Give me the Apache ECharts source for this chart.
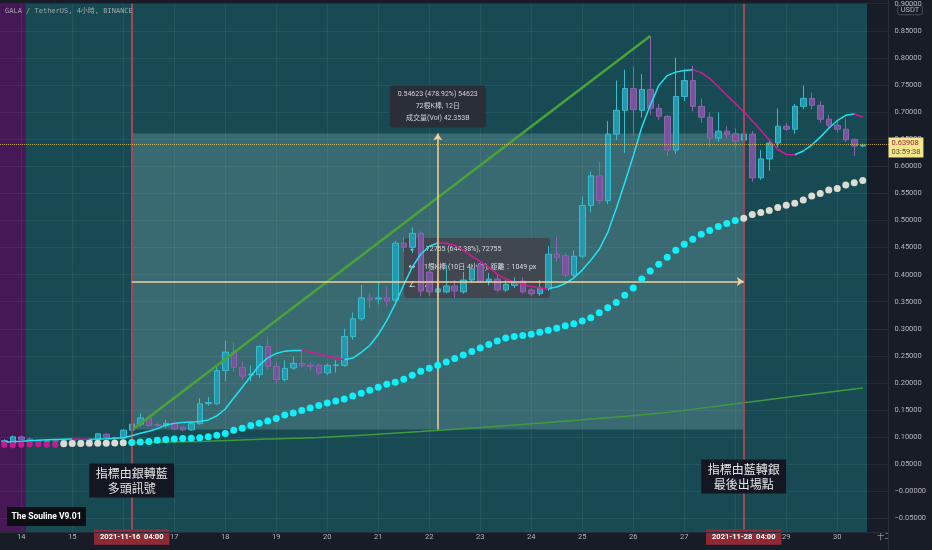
<!DOCTYPE html>
<html>
<head>
<meta charset="utf-8">
<title>GALA / TetherUS 4h</title>
<script src="https://cdn.jsdelivr.net/npm/echarts@6.0.0/dist/echarts.min.js"></script>
<style>
html,body{margin:0;padding:0;background:#181c27;overflow:hidden;}
#chart{width:932px;height:550px;}
</style>
</head>
<body>
<div id="chart"></div>
<script>
// ================= DATA =================
const firstSlotUTC = Date.UTC(2021, 10, 13, 16, 0); // first 4h slot on the axis
const slotCount = 105;                              // 102 bars + empty right margin up to 1 Dec
const markedTimes = ['2021-11-16 04:00', '2021-11-28 04:00'];
const monthNames = ['一月','二月','三月','四月','五月','六月','七月','八月','九月','十月','十一月','十二月'];

// candles: [open, close, low, high]
const candles = [
  [0.0916,0.0934,0.0880,0.0960],[0.0885,0.1007,0.0870,0.1030],[0.1005,0.0960,0.0940,0.1030],[0.0965,0.0925,0.0900,0.0990],
  [0.0930,0.0925,0.0900,0.0960],[0.0925,0.0930,0.0910,0.0945],[0.0930,0.0928,0.0915,0.0945],[0.0928,0.0935,0.0915,0.0950],
  [0.0935,0.0930,0.0920,0.0950],[0.0930,0.0933,0.0918,0.0948],[0.0933,0.0940,0.0920,0.0960],[0.0952,0.1062,0.0940,0.1070],
  [0.1056,0.0995,0.0985,0.1075],[0.0995,0.0975,0.0960,0.1010],[0.0983,0.1130,0.0970,0.1150],[0.1130,0.1240,0.11291,0.1420],
  [0.1240,0.1355,0.1200,0.1440],[0.1355,0.1215,0.1190,0.1400],[0.1227,0.1222,0.1180,0.1260],[0.1210,0.1255,0.1180,0.1320],
  [0.1255,0.1150,0.1130,0.1280],[0.1180,0.1135,0.1110,0.1200],[0.1135,0.1250,0.1120,0.1270],[0.1250,0.1617,0.1230,0.1722],
  [0.1620,0.1640,0.1580,0.1740],[0.1617,0.2229,0.1600,0.2300],[0.2229,0.2570,0.2033,0.2780],[0.2570,0.2290,0.2200,0.2750],
  [0.2290,0.2125,0.2050,0.2400],[0.2150,0.2165,0.2030,0.2326],[0.2156,0.2674,0.2100,0.2700],[0.2674,0.2308,0.2250,0.2857],
  [0.2308,0.2064,0.2000,0.2380],[0.2064,0.2270,0.2030,0.2418],[0.2277,0.2363,0.2250,0.2490],[0.2363,0.2320,0.2280,0.2600],
  [0.2330,0.2308,0.2240,0.2380],[0.2326,0.2185,0.2150,0.2360],[0.2185,0.2326,0.2150,0.2360],[0.2320,0.2335,0.2190,0.2420],
  [0.2326,0.2857,0.2300,0.3004],[0.2857,0.3187,0.2800,0.3300],[0.3187,0.3571,0.3150,0.3810],[0.3571,0.3540,0.3380,0.3650],
  [0.3550,0.3571,0.3450,0.3883],[0.3571,0.3515,0.3420,0.3774],[0.3530,0.4579,0.3450,0.4620],[0.4579,0.4505,0.4420,0.4700],
  [0.4505,0.4762,0.4400,0.4872],[0.4762,0.3700,0.3600,0.4800],[0.4048,0.3681,0.3600,0.4150],[0.3681,0.3736,0.3600,0.3919],
  [0.3681,0.3791,0.3650,0.4176],[0.3791,0.3700,0.3570,0.3900],[0.3681,0.3901,0.3650,0.4050],[0.3901,0.4103,0.3850,0.4200],
  [0.4176,0.3883,0.3850,0.4250],[0.3883,0.3919,0.3800,0.4030],[0.3919,0.3718,0.3680,0.4000],[0.3718,0.3820,0.3680,0.3900],
  [0.3800,0.3860,0.3750,0.3950],[0.3880,0.3681,0.3650,0.3950],[0.3718,0.3645,0.3600,0.3750],[0.3650,0.3750,0.3610,0.3900],
  [0.3736,0.4377,0.3700,0.4530],[0.4377,0.4322,0.4250,0.4700],[0.4350,0.3993,0.3950,0.4400],[0.3993,0.4341,0.3950,0.4450],
  [0.4341,0.5275,0.4300,0.5440],[0.5275,0.5824,0.5150,0.5900],[0.5824,0.5366,0.5300,0.6081],[0.5366,0.6593,0.5300,0.6832],
  [0.6593,0.7033,0.6484,0.7582],[0.7033,0.7436,0.6245,0.7784],[0.7436,0.7045,0.6557,0.7839],[0.7033,0.7418,0.6900,0.7700],
  [0.7418,0.7070,0.6950,0.84046],[0.7070,0.6923,0.6850,0.7150],[0.6923,0.6300,0.6190,0.6950],[0.6300,0.7289,0.6227,0.8004],
  [0.7289,0.7582,0.7200,0.7784],[0.7582,0.7106,0.7015,0.7857],[0.7106,0.6905,0.6800,0.7253],[0.6905,0.6520,0.6355,0.6996],
  [0.6520,0.6648,0.6450,0.6996],[0.6648,0.6590,0.6500,0.6740],[0.6600,0.6465,0.6300,0.6700],[0.6484,0.6593,0.6400,0.6800],
  [0.6593,0.5788,0.5714,0.6650],[0.5788,0.6136,0.5750,0.6300],[0.6136,0.6429,0.5916,0.6500],[0.6429,0.6740,0.6350,0.7070],
  [0.6740,0.6685,0.6650,0.6800],[0.6685,0.7106,0.6600,0.7150],[0.7106,0.7253,0.7050,0.7491],[0.7253,0.7125,0.7050,0.7363],
  [0.7125,0.6868,0.6800,0.7200],[0.6868,0.6758,0.6700,0.6950],[0.6758,0.6685,0.6620,0.6850],[0.6685,0.6490,0.6450,0.6880],
  [0.6490,0.6374,0.6190,0.6520],[0.6374,0.63908,0.6350,0.6420]
];

// smooth trend line (cyan when rising, magenta when falling)
const trendMA = [
  0.0907,0.0916,0.0925,0.0934,0.0943,0.0952,0.0958,0.0962,0.0966,0.0964,0.0962,0.0966,0.0971,0.0980,0.0989,
  0.1026,0.1071,0.1108,0.1154,0.1227,0.1255,0.1273,0.1282,0.1291,0.1319,0.1392,0.1520,0.1722,0.1923,0.2125,
  0.2326,0.2463,0.2546,0.2588,0.2598,0.2601,0.2573,0.2537,0.2500,0.2463,0.2430,0.2460,0.2564,0.2692,0.2894,
  0.3150,0.3462,0.3810,0.4139,0.4377,0.4524,0.4584,0.4579,0.4542,0.4451,0.4341,0.4240,0.4139,0.4011,0.3919,
  0.3864,0.3819,0.3782,0.3755,0.3742,0.3773,0.3837,0.3938,0.4084,0.4267,0.4469,0.4780,0.5220,0.5696,0.6190,
  0.6722,0.7125,0.7491,0.7674,0.7738,0.7766,0.7784,0.7729,0.7619,0.7473,0.7313,0.7161,0.7005,0.6841,0.6667,
  0.6484,0.6310,0.6218,0.6214,0.6282,0.6392,0.6538,0.6703,0.6841,0.6941,0.6965,0.6905
];

// dotted trailing stop
const dotValues = [
  0.0861,0.0852,0.0861,0.0870,0.0870,0.0861,0.0861,
  0.0880,0.0882,0.0884,0.0886,0.0888,0.0890,0.0892,0.0895,
  0.0903,0.0912,0.0921,0.0943,0.0956,0.0967,0.0974,0.0980,0.0989,0.1007,0.1035,0.1068,0.1126,0.1163,0.1214,
  0.1255,0.1300,0.1346,0.1410,0.1447,0.1493,0.1538,0.1584,0.1630,0.1667,0.1703,0.1758,0.1813,0.1868,0.1923,
  0.1978,0.2015,0.2070,0.2143,0.2216,0.2271,0.2326,0.2390,0.2454,0.2518,0.2582,0.2647,0.2711,0.2775,0.2830,
  0.2857,0.2875,0.2899,0.2936,0.2973,0.3009,0.3059,0.3095,0.3145,0.3205,0.3297,0.3388,0.3485,0.3621,0.3755,
  0.3919,0.4066,0.4194,0.4322,0.4451,0.4560,0.4652,0.4744,0.4817,0.4890,0.4945,0.5000,
  0.5042,0.5110,0.5147,0.5183,0.5238,0.5280,0.5317,0.5379,0.5452,0.5500,0.5562,0.5592,0.5654,0.5696,0.5738
];
const dotPhases = [
  {from: 0,  to: 6,   state: 'bear'},
  {from: 7,  to: 14,  state: 'neutral'},
  {from: 15, to: 86,  state: 'bull'},
  {from: 87, to: 101, state: 'neutral'}
];
const bgPhases = [
  {from: 0, to: 2,   state: 'bear'},
  {from: 3, to: 101, state: 'bull'}
];

// slow moving average, read at a few bars
const slowMA = [[15,0.0903],[23,0.0921],[31,0.0965],[37,0.0995],[49,0.1104],[64,0.1273],[77,0.1441],[87,0.1636],[101,0.1910]];
// trend-angle drawing (from low to high)
const trendAngle = [[15,0.11291],[76,0.84046]];
// date & price range drawing
const rangeFrom = 15, rangeTo = 87, rangeLow = 0.11406, rangeHigh = 0.66029;
const rangeText = ['0.54623 (478.92%) 54623', '72根K棒, 12日', '成交量(Vol) 42.353B'];
const angleText = ['0.72755 (644.38%), 72755', '61根K棒 (10日 4小時), 距離：1049 px', '37°'];
const lastPrice = 0.63908;
const countdown = '03:59:38';
const priceStep = 0.05;
const priceMin = -0.075, priceMax = 0.9;
const notes = [
  {at: 15, price: 0.0201, text: '指標由銀轉藍\n多頭訊號'},
  {at: 87, price: 0.0275, text: '指標由藍轉銀\n最後出場點'}
];

// ================= BUILD =================
const pad = n => String(n).padStart(2, '0');
const categories = [];
for (let i = 0; i < slotCount; i++) {
  const d = new Date(firstSlotUTC + i * 4 * 3600 * 1000);
  categories.push(`${d.getUTCFullYear()}-${pad(d.getUTCMonth()+1)}-${pad(d.getUTCDate())} ${pad(d.getUTCHours())}:00`);
}
const markedIdx = markedTimes.map(t => categories.indexOf(t));
const dayStarts = [];
categories.forEach((c, i) => { if (c.endsWith(' 00:00')) dayStarts.push(i); });

function showLabel(idx) {
  if (markedIdx.includes(idx)) return true;
  if (!categories[idx].endsWith(' 00:00')) return false;
  return !markedIdx.some(m => Math.abs(m - idx) <= 2);
}
function phaseOf(phases, i) {
  const p = phases.find(p => i >= p.from && i <= p.to);
  return p ? p.state : null;
}

const maRise = trendMA.map(() => null), maFall = trendMA.map(() => null);
for (let i = 0; i < trendMA.length - 1; i++) {
  const tgt = trendMA[i + 1] >= trendMA[i] ? maRise : maFall;
  tgt[i] = trendMA[i]; tgt[i + 1] = trendMA[i + 1];
}
const rangeMid = (rangeLow + rangeHigh) / 2;
const rangeCenter = (rangeFrom + rangeTo) / 2;

const C = {
  bgBear: '#461856', bgBull: '#174a52',
  up: '#2698ad', upBorder: '#36bccd', down: '#77559b', downBorder: '#8c64af',
  dotBear: '#c8198f', dotNeutral: '#dcdcd4', dotBull: '#10f0fa',
  maUp: '#1fe3f2', maDown: '#d01c96',
  green: '#4aa338', slow: '#3f9a3f', red: '#a6445a', tool: '#f1d29a',
  axisText: '#b2b5be', panel: '#181c27', sep: '#2a2e39'
};
const dotColor = {bear: C.dotBear, neutral: C.dotNeutral, bull: C.dotBull};
const bgColor = {bear: C.bgBear, bull: C.bgBull};
const FONT = 'Roboto, "Noto Sans CJK TC", sans-serif';

const chart = echarts.init(document.getElementById('chart'), null, {renderer: 'canvas'});

const dotSeries = ['bear', 'neutral', 'bull'].map(state => ({
  type: 'scatter', name: 'dots-' + state, xAxisIndex: 0, yAxisIndex: 0, z: 6, silent: true,
  symbolSize: state === 'bear' ? 6.2 : 7,
  itemStyle: {color: dotColor[state], opacity: 1},
  data: dotValues.map((v, i) => [i, v]).filter(p => phaseOf(dotPhases, p[0]) === state)
}));

const option = {
  backgroundColor: C.panel,
  animation: false,
  textStyle: {fontFamily: FONT},
  grid: {left: 0, top: 0, width: slotCount * 8.5, height: 532, containLabel: false},
  xAxis: [
    {type: 'category', data: categories, boundaryGap: true, z: 1,
     axisLine: {show: false}, axisTick: {show: false}, axisLabel: {show: false}, splitLine: {show: false}},
    {type: 'value', min: -0.5, max: slotCount - 0.5, show: false},
    {type: 'category', data: categories, boundaryGap: true, position: 'bottom', z: 7,
     axisLine: {show: false}, axisTick: {show: false}, splitLine: {show: false},
     axisLabel: {
       show: true, margin: 0, interval: (idx) => showLabel(idx),
       formatter: (val) => {
         if (markedTimes.includes(val)) return '{mark|' + val.replace(' ', '  ') + '}';
         const day = +val.slice(8, 10);
         return '{day|' + (day === 1 ? monthNames[+val.slice(5, 7) - 1] : day) + '}';
       },
       rich: {
         day: {color: C.axisText, fontSize: 7.5, lineHeight: 10, padding: [4, 0, 4, 0], fontFamily: FONT},
         mark: {color: '#ffffff', fontSize: 7.5, fontWeight: 'bold', lineHeight: 10, padding: [4, 6, 4, 6],
                backgroundColor: '#8e2a36', fontFamily: FONT}
       }
     }}
  ],
  yAxis: [
    {type: 'value', min: priceMin, max: priceMax, splitNumber: 20, position: 'right', z: 1,
     axisLine: {show: false}, axisTick: {show: false}, axisLabel: {show: false},
     splitLine: {show: true, lineStyle: {color: 'rgba(255,255,255,0.06)', width: 1}}},
    {type: 'value', min: priceMin, max: priceMax, splitNumber: 20, position: 'right', z: 9,
     axisLine: {show: false}, axisTick: {show: false}, splitLine: {show: false},
     axisLabel: {
       show: true, margin: 2, color: C.axisText, fontSize: 7.5, showMinLabel: false,
       formatter: v => {
         const k = v / priceStep;
         if (Math.abs(k - Math.round(k)) > 1e-6) return '';
         const r = Math.round(k) * priceStep;
         if (Math.abs(r) < 1e-9) return '\u22120.00000';
         return r < 0 ? '\u2212' + Math.abs(r).toFixed(5) : r.toFixed(5);
       }
     }}
  ],
  series: [
    // slow MA (+ background phases + vertical grid)
    {type: 'line', name: 'slow', xAxisIndex: 1, yAxisIndex: 0, z: 4, silent: true,
     data: slowMA, showSymbol: false, smooth: 0.3,
     lineStyle: {color: C.slow, width: 1.5},
     markArea: {silent: true, z: 0,
       data: bgPhases.map(p => [{xAxis: p.from - 0.5, itemStyle: {color: bgColor[p.state]}}, {xAxis: p.to + 0.5}])},
     markLine: {silent: true, z: 1, symbol: 'none', label: {show: false},
       lineStyle: {color: 'rgba(255,255,255,0.06)', width: 1, type: 'solid'},
       data: dayStarts.map(i => ({xAxis: i}))}
    },
    // trend angle drawing (+ range box + red signal lines)
    {type: 'line', name: 'angle', xAxisIndex: 1, yAxisIndex: 0, z: 4, silent: true,
     data: trendAngle, showSymbol: false,
     lineStyle: {color: C.green, width: 2.5},
     markArea: {silent: true, z: 1.5,
       data: [[{coord: [rangeFrom, rangeLow], itemStyle: {color: 'rgba(200,235,240,0.2)'}}, {coord: [rangeTo, rangeHigh]}]]},
     markLine: {silent: true, z: 4.5, symbol: 'none', label: {show: false},
       lineStyle: {color: C.red, width: 2, type: 'solid'},
       data: markedIdx.map(i => ({xAxis: i}))}
    },
    // candles (+ last price line)
    {type: 'candlestick', name: 'GALAUSDT', xAxisIndex: 0, yAxisIndex: 0, z: 3, silent: true,
     data: candles, barWidth: 6,
     itemStyle: {color: C.up, color0: C.down, borderColor: C.upBorder, borderColor0: C.downBorder, borderWidth: 1},
     markLine: {silent: true, z: 10, symbol: 'none',
       lineStyle: {color: 'rgba(226,205,120,0.75)', width: 1, type: 'dotted'},
       data: [{yAxis: lastPrice,
         label: {show: true, position: 'end', distance: -4, offset: [0, 3],
           formatter: '{p|' + lastPrice.toFixed(5) + '}\n{t|' + countdown + '}',
           backgroundColor: '#f3e58f', padding: [1, 3, 1, 3],
           rich: {p: {color: '#a3263a', fontSize: 7.5, lineHeight: 9}, t: {color: '#5b4a2a', fontSize: 7.5, lineHeight: 9}}}}]}
    },
    // trend MA rising
    {type: 'line', name: 'ma-up', xAxisIndex: 0, yAxisIndex: 0, z: 5, silent: true,
     data: maRise, showSymbol: false, connectNulls: false,
     lineStyle: {color: C.maUp, width: 1.5},
     markLine: {silent: true, z: 5.5, symbol: ['none', 'arrow'], symbolSize: 7, label: {show: false},
       lineStyle: {color: C.tool, width: 1.5, type: 'solid'},
       data: [
         [{coord: [rangeFrom, rangeMid]}, {coord: [rangeTo, rangeMid]}],
         [{coord: [rangeCenter, rangeLow]}, {coord: [rangeCenter, rangeHigh]}]
       ]},
     markPoint: {silent: true, z: 7,
       data: [
         {coord: [rangeCenter, rangeHigh], symbol: 'circle', symbolSize: 0,
          label: {show: true, position: 'top', distance: 6, formatter: rangeText.join('\n'),
            color: '#d1d4dc', fontSize: 7, lineHeight: 12, align: 'center',
            backgroundColor: '#2a2e39', borderRadius: 3, padding: [3, 8, 3, 8]}}
       ].concat(notes.map(n => ({
          coord: [n.at, n.price], symbol: 'rect', symbolSize: [85, 34],
          itemStyle: {color: '#131722'},
          label: {show: true, position: 'inside', formatter: n.text, color: '#e6e6e6',
            fontSize: 12, lineHeight: 15, fontFamily: '"Noto Sans CJK TC", sans-serif'}
       })))}
    },
    // trend MA falling
    {type: 'line', name: 'ma-down', xAxisIndex: 0, yAxisIndex: 0, z: 5, silent: true,
     data: maFall, showSymbol: false, connectNulls: false,
     lineStyle: {color: C.maDown, width: 1.5}}
  ].concat(dotSeries),
  graphic: [
    // trend-angle info box (under candles)
    {type: 'rect', z: 2, silent: true, shape: {x: 404, y: 238, width: 146, height: 60, r: 3}, style: {fill: 'rgba(64,70,79,0.95)'}},
    {type: 'text', z: 2.1, silent: true, style: {x: 412, y: 249, text: '↕', fill: '#d8dbe2', font: '8px "DejaVu Sans"', textAlign: 'center', textVerticalAlign: 'middle', verticalAlign: 'middle'}},
    {type: 'text', z: 2.1, silent: true, style: {x: 412, y: 267, text: '↔', fill: '#d8dbe2', font: '8px "DejaVu Sans"', textAlign: 'center', textVerticalAlign: 'middle', verticalAlign: 'middle'}},
    {type: 'text', z: 2.1, silent: true, style: {x: 412, y: 285, text: '∠', fill: '#d8dbe2', font: '8px "DejaVu Sans"', textAlign: 'center', textVerticalAlign: 'middle', verticalAlign: 'middle'}},
    {type: 'text', z: 2.1, silent: true, style: {x: 420, y: 249, text: angleText[0], fill: '#d8dbe2', font: '7px ' + FONT, textVerticalAlign: 'middle', verticalAlign: 'middle'}},
    {type: 'text', z: 2.1, silent: true, style: {x: 420, y: 267, text: angleText[1], fill: '#d8dbe2', font: '7px ' + FONT, textVerticalAlign: 'middle', verticalAlign: 'middle'}},
    {type: 'text', z: 2.1, silent: true, style: {x: 420, y: 285, text: angleText[2], fill: '#d8dbe2', font: '7px ' + FONT, textVerticalAlign: 'middle', verticalAlign: 'middle'}},
    // right price panel and separators
    {type: 'rect', z: 8, silent: true, shape: {x: 888, y: 0, width: 44, height: 550}, style: {fill: C.panel}},
    {type: 'line', z: 8.5, silent: true, shape: {x1: 888.5, y1: 0, x2: 888.5, y2: 550}, style: {stroke: C.sep, lineWidth: 1}},
    {type: 'line', z: 8.5, silent: true, shape: {x1: 0, y1: 532.5, x2: 888, y2: 532.5}, style: {stroke: C.sep, lineWidth: 1}},
    // title
    {type: 'text', z: 9, silent: true, style: {x: 5, y: 11, text: 'GALA / TetherUS, 4小時, BINANCE', fill: '#a3a6af', font: '7px "DejaVu Sans Mono", "Noto Sans CJK TC", monospace', textVerticalAlign: 'middle', verticalAlign: 'middle'}},
    // currency tag
    {type: 'text', z: 9, silent: true, style: {x: 910, y: 10, text: 'USDT', fill: '#b2b5be', font: '7.5px ' + FONT, textAlign: 'center', textVerticalAlign: 'middle', verticalAlign: 'middle', align: 'center', borderColor: '#4a4e59', borderWidth: 1, borderRadius: 2, padding: [1, 3, 1, 3]}},
    // indicator name badge
    {type: 'rect', z: 9, silent: true, shape: {x: 7, y: 507, width: 79, height: 19}, style: {fill: '#0c0e14'}},
    {type: 'text', z: 9.1, silent: true, style: {x: 46.5, y: 516.5, text: 'The Souline V9.01', fill: '#ffffff', font: 'bold 8.5px ' + FONT, textAlign: 'center', textVerticalAlign: 'middle', align: 'center', verticalAlign: 'middle'}}
  ]
};
chart.setOption(option);
</script>
</body>
</html>
